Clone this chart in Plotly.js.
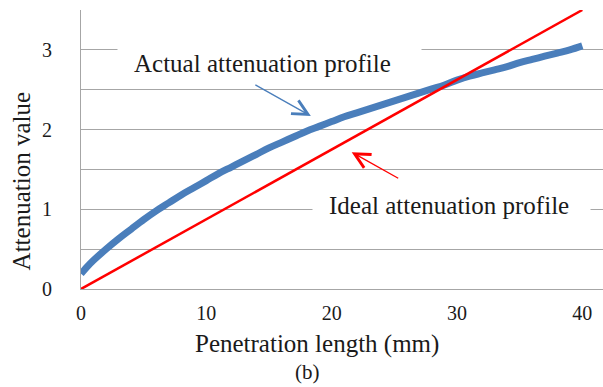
<!DOCTYPE html>
<html>
<head>
<meta charset="utf-8">
<script src="https://cdn.plot.ly/plotly-3.0.1.min.js"></script>
<style>html,body{margin:0;padding:0;background:#fff;}#chart{width:603px;height:387px;}</style>
</head>
<body>
<div id="chart"></div>
<script>
// Penetration length (mm)
const actualX = [0,0.5,1,2,3,4,5,6,7,8,9,10,11,12,13,14,15,16,17,18,19,20,21,22,23,24,25,26,27,28,29,30,31,32,33,34,35,36,37,38,39,40];
// Actual attenuation profile (measured)
const actualY = [0.19,0.28,0.36,0.50,0.63,0.75,0.87,0.98,1.08,1.18,1.27,1.36,1.45,1.53,1.61,1.69,1.77,1.84,1.91,1.98,2.04,2.10,2.16,2.21,2.26,2.31,2.36,2.41,2.46,2.51,2.56,2.62,2.67,2.71,2.75,2.79,2.84,2.88,2.92,2.96,3.00,3.05];
// Ideal attenuation profile (straight line)
const idealX = [0, 40];
const idealY = [0, 3.5];

const xTickVals = [0,10,20,30,40];
const xTickText = ['0','10','20','30','40'];
const yTickVals = [0,0.5,1,1.5,2,2.5,3,3.5];
const yTickText = ['0','','1','','2','','3',''];

const serif = '"Liberation Serif", "Times New Roman", serif';
const grid = '#a6a6a6';
const ink = '#1a1a1a';

const traces = [
  {x: actualX, y: actualY, type: 'scatter', mode: 'lines', name: 'Actual attenuation profile',
   line: {color: '#4a7ebb', width: 7, shape: 'spline', smoothing: 1}, hoverinfo: 'skip'},
  {x: idealX, y: idealY, type: 'scatter', mode: 'lines', name: 'Ideal attenuation profile',
   line: {color: '#ff0000', width: 2.5}, hoverinfo: 'skip'}
];

const layout = {
  width: 603, height: 387,
  margin: {l: 81, r: 0, t: 10, b: 98, pad: 0},
  paper_bgcolor: '#ffffff', plot_bgcolor: '#ffffff',
  showlegend: false,
  font: {family: serif, color: ink},
  xaxis: {
    range: [0, 41.65], tickvals: xTickVals, ticktext: xTickText,
    showgrid: false, zeroline: false, showline: true, linecolor: grid, linewidth: 1,
    ticks: '', ticklabelstandoff: 6, tickfont: {family: serif, size: 20, color: ink},
    fixedrange: true
  },
  yaxis: {
    range: [0, 3.5], tickvals: yTickVals, ticktext: yTickText,
    showgrid: true, gridcolor: grid, gridwidth: 1, zeroline: false,
    showline: true, linecolor: grid, linewidth: 1,
    ticks: '', ticklabelstandoff: 24, tickfont: {family: serif, size: 20, color: ink},
    fixedrange: true
  },
  annotations: [
    // white boxes masking gridlines behind labels
    {xref: 'paper', yref: 'paper', x: 0.3611, y: 0.809, text: ' ', showarrow: false,
     width: 303, height: 40, bgcolor: '#ffffff', borderpad: 0, xanchor: 'center', yanchor: 'middle'},
    {xref: 'paper', yref: 'paper', x: 0.7098, y: 0.301, text: ' ', showarrow: false,
     width: 277, height: 36, bgcolor: '#ffffff', borderpad: 0, xanchor: 'center', yanchor: 'middle'},
    // labels
    {xref: 'paper', yref: 'paper', x: 0.3477, y: 0.809, text: 'Actual attenuation profile', showarrow: false,
     xanchor: 'center', yanchor: 'middle', font: {family: serif, size: 25, color: ink}},
    {xref: 'paper', yref: 'paper', x: 0.705, y: 0.301, text: 'Ideal attenuation profile', showarrow: false,
     xanchor: 'center', yanchor: 'middle', font: {family: serif, size: 25, color: ink}},
    // arrows
    {xref: 'x', yref: 'y', x: 18.34, y: 2.17, ax: -57, ay: -32, text: '', showarrow: true,
     arrowhead: 5, arrowsize: 2.3, arrowwidth: 1.3, arrowcolor: '#4a7ebb', standoff: 0},
    {xref: 'x', yref: 'y', x: 21.6, y: 1.717, ax: 48, ay: 27, text: '', showarrow: true,
     arrowhead: 5, arrowsize: 2.3, arrowwidth: 1.3, arrowcolor: '#ff0000', standoff: 0},
    // axis titles
    {xref: 'paper', yref: 'paper', x: (317 - 81) / 522, y: (289 - 343.6) / 279,
     text: 'Penetration length (mm)', showarrow: false, xanchor: 'center', yanchor: 'middle',
     font: {family: serif, size: 25, color: ink}},
    {xref: 'paper', yref: 'paper', x: (21.7 - 81) / 522, y: (289 - 181.7) / 279,
     text: 'Attenuation value', showarrow: false, textangle: -90, xanchor: 'center', yanchor: 'middle',
     font: {family: serif, size: 25, color: ink}},
    {xref: 'paper', yref: 'paper', x: (307 - 81) / 522, y: (289 - 372) / 279,
     text: '(b)', showarrow: false, xanchor: 'center', yanchor: 'middle',
     font: {family: serif, size: 21, color: ink}}
  ]
};

Plotly.newPlot('chart', traces, layout, {displayModeBar: false, staticPlot: true});
</script>
</body>
</html>
